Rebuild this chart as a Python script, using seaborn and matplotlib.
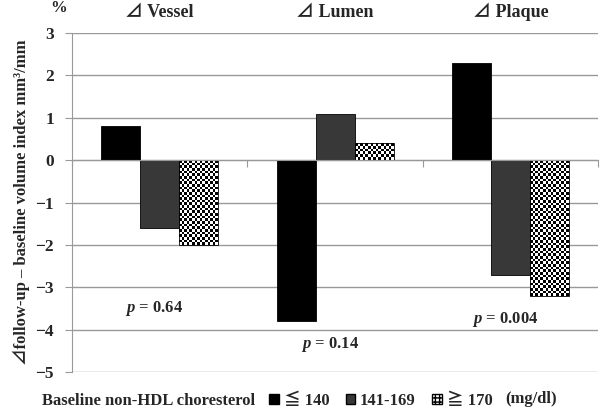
import numpy as np
import pandas as pd
import matplotlib
matplotlib.use('Agg')
import matplotlib.pyplot as plt
import seaborn as sns
from matplotlib.patches import Patch

# dados
segmentos = ['Vessel', 'Lumen', 'Plaque']
grupos = ['≦ 140', '141-169', '≧ 170']
vals_140 = [0.8, -3.8, 2.3]
vals_141_169 = [-1.6, 1.1, -2.7]
vals_170 = [-2.0, 0.4, -3.2]
p_valores = ['0.64', '0.14', '0.004']
p_y = [-3.5, -4.35, -3.75]
cores = ['#000000', '#383838', '#ffffff']

df = pd.DataFrame({
    'segmento': segmentos * 3,
    'grupo': [g for g in grupos for _ in segmentos],
    'valor': vals_140 + vals_141_169 + vals_170,
})

sns.set_style('white')
fam = ['Liberation Serif', 'Noto Sans CJK JP', 'DejaVu Serif', 'DejaVu Sans']
plt.rcParams['font.family'] = fam
plt.rcParams['font.weight'] = 'bold'
plt.rcParams['mathtext.fontset'] = 'custom'
plt.rcParams['mathtext.it'] = 'Liberation Serif:italic:bold'
plt.rcParams['mathtext.rm'] = 'Liberation Serif:bold'

fig = plt.figure(figsize=(6, 4.13), dpi=100)
ax = fig.add_axes([0.12, 0.099, 0.877, 0.821])

sns.barplot(data=df, x='segmento', y='valor', hue='grupo', order=segmentos,
            hue_order=grupos, palette=cores, width=0.667, edgecolor='black',
            linewidth=0.6, legend=False, ax=ax, zorder=1)

# padrão xadrez nas barras do grupo >= 170
for barra in ax.containers[2]:
    x0, w = barra.get_x(), barra.get_width()
    y0, h = barra.get_y(), barra.get_height()
    ymin, ymax = min(y0, y0 + h), max(y0, y0 + h)
    ncol = 15
    nlin = max(2, int(round(abs(h) * 16)))
    xadrez = np.indices((nlin, ncol)).sum(axis=0) % 2
    ax.imshow(xadrez, cmap='gray', extent=(x0, x0 + w, ymin, ymax), origin='upper',
              interpolation='nearest', aspect='auto', zorder=0.9, clip_path=barra,
              vmin=0, vmax=1)
    barra.set_facecolor('none')

ax.set_xlim(-0.5, 2.5)
ax.set_ylim(-5, 3)
ax.set_yticks(range(-5, 4))
ax.set_axisbelow(True)
ax.yaxis.grid(True, color='#999999', linewidth=1)

cinza = '#999999'
for lado in ['top', 'right']:
    ax.spines[lado].set_visible(False)
ax.spines['left'].set_color(cinza)
ax.spines['bottom'].set_color(cinza)
ax.spines['bottom'].set_position(('data', 0))
ax.set_xticks([-0.5, 0.5, 1.5, 2.5])
ax.set_xticklabels([])
ax.tick_params(axis='x', direction='out', length=5, color=cinza, bottom=True)
ax.tick_params(axis='y', direction='out', length=5, color=cinza, left=True,
               labelsize=12.5, pad=8)
for t in ax.get_yticklabels():
    t.set_fontweight('bold')

ax.set_xlabel('')
ax.set_ylabel('⊿follow-up – baseline volume index mm³/mm', fontsize=12,
              fontweight='bold', labelpad=4)

for i, seg in enumerate(segmentos):
    ax.text(i, 1.035, '⊿ ' + seg, transform=ax.get_xaxis_transform(),
            ha='center', va='bottom', fontsize=13, fontweight='bold')
    ax.text(i - 0.03, p_y[i], '$p$ = ' + p_valores[i], ha='center', va='center',
            fontsize=12, fontweight='bold')

fig.text(0.083, 0.98, '%', ha='left', va='center', fontsize=12, fontweight='bold')

fig.text(0.07, 0.03, 'Baseline non-HDL choresterol', ha='left', va='center',
         fontsize=12, fontweight='bold')
handles = [Patch(facecolor=cores[0], edgecolor='black'),
           Patch(facecolor=cores[1], edgecolor='black'),
           Patch(facecolor='white', edgecolor='black', hatch='++++')]
fig.legend(handles, grupos, loc='center left', bbox_to_anchor=(0.435, 0.03),
           ncol=3, frameon=False, handlelength=0.55, handleheight=0.55,
           handletextpad=0.3, columnspacing=1.0, borderpad=0,
           prop={'weight': 'bold', 'size': 12})
fig.text(0.842, 0.035, '(mg/dl)', ha='left', va='center', fontsize=12,
         fontweight='bold')

plt.savefig('out.png', dpi=100)
plt.close()
